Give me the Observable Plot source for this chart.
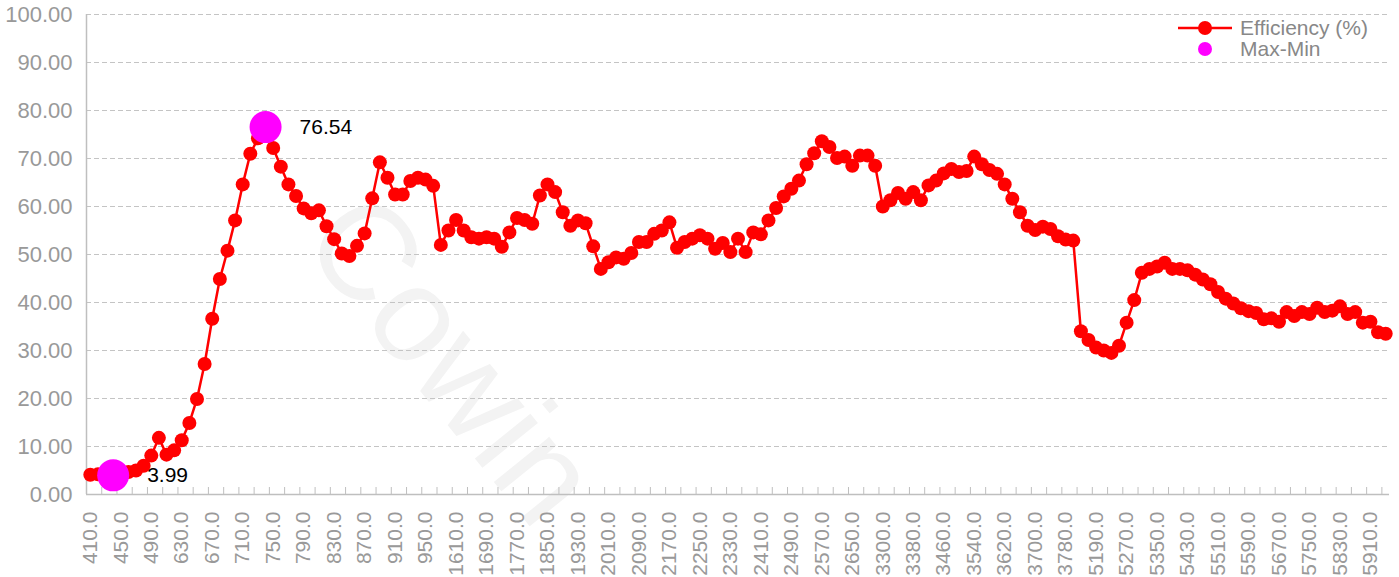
<!DOCTYPE html>
<html><head><meta charset="utf-8">
<script src="https://cdn.jsdelivr.net/npm/d3@7"></script>
<script src="https://cdn.jsdelivr.net/npm/@observablehq/plot@0.6"></script>
<style>
body{margin:0;background:#fff;font-family:"Liberation Sans",Arial,sans-serif;}
#wrap{position:relative;width:1399px;height:577px;overflow:hidden;}
#wrap svg.main{position:absolute;left:0;top:0;}
#legend{position:absolute;left:1176px;top:17px;font-size:21px;color:#888;line-height:21px;}
#legend .row{display:flex;align-items:center;height:21px;}
#legend svg{margin-right:6px;}
</style></head><body><div id="wrap"></div>
<script>
const wavelengths = [
  410,420,430,440,450,460,470,480,490,500,510,520,
  630,640,650,660,670,680,690,700,710,720,730,740,750,760,770,780,790,800,810,820,830,840,850,860,870,880,890,900,910,920,930,940,950,960,970,980,
  1610,1630,1650,1670,1690,1710,1730,1750,1770,1790,1810,1830,1850,1870,1890,1910,1930,1950,1970,1990,2010,2030,2050,2070,2090,2110,2130,2150,2170,2190,2210,2230,2250,2270,2290,2310,2330,2350,2370,2390,2410,2430,2450,2470,2490,2510,2530,2550,2570,2590,2610,2630,2650,2670,2690,2710,
  3300,3320,3340,3360,3380,3400,3420,3440,3460,3480,3500,3520,3540,3560,3580,3600,3620,3640,3660,3680,3700,3720,3740,3760,3780,3800,3820,3840,
  5190,5210,5230,5250,5270,5290,5310,5330,5350,5370,5390,5410,5430,5450,5470,5490,5510,5530,5550,5570,5590,5610,5630,5650,5670,5690,5710,5730,5750,5770,5790,5810,5830,5850,5870,5890,5910,5930,5950
];
const efficiency = [
  4.1,4.2,4.1,3.99,4.3,4.7,5.0,6.0,8.1,11.8,8.3,9.2,
  11.3,14.9,19.9,27.2,36.6,44.9,50.8,57.1,64.6,71.0,74.2,76.54,72.2,68.3,64.6,62.2,59.6,58.6,59.2,55.9,53.2,50.2,49.7,51.8,54.4,61.7,69.2,66.0,62.5,62.5,65.3,66.0,65.6,64.3,52.0,55.0,
  57.2,55.0,53.6,53.3,53.6,53.3,51.6,54.6,57.6,57.2,56.4,62.3,64.6,63.0,58.8,56.0,57.1,56.5,51.7,47.0,48.4,49.4,49.1,50.3,52.6,52.6,54.3,55.0,56.7,51.4,52.6,53.3,54.0,53.3,51.2,52.4,50.5,53.3,50.5,54.6,54.2,57.1,59.7,62.1,63.7,65.4,68.8,71.1,73.6,72.4,70.1,70.4,68.5,70.6,70.6,68.5,
  60.0,61.3,62.8,61.6,63.0,61.3,64.4,65.4,66.9,67.8,67.2,67.4,70.4,68.8,67.6,66.8,64.6,61.6,58.8,56.0,55.1,55.8,55.3,53.8,53.1,52.9,34.0,32.2,
  30.6,30.0,29.5,31.0,35.8,40.5,46.2,47.0,47.5,48.3,47.0,47.0,46.7,45.8,44.8,43.8,42.2,40.8,39.8,38.8,38.2,37.8,36.5,36.7,36.0,38.0,37.2,38.0,37.6,38.9,38.0,38.3,39.2,37.6,38.0,35.8,36.0,33.8,33.5
];
const yTicks = [0,10,20,30,40,50,60,70,80,90,100];
const seriesName = "Efficiency (%)";
const extremesName = "Max-Min";
const watermarkText = "Cowin";

const data = wavelengths.map((w, i) => ({i, w, v: efficiency[i]}));
const extremes = [data[d3.maxIndex(efficiency)], data[d3.minIndex(efficiency)]];
const labelIdx = d3.range(0, wavelengths.length, 4);
const tickIdx = d3.range(-0.5, wavelengths.length, 2);

const watermark = () => {
  const t = d3.create("svg:text")
    .attr("transform", "translate(445,365) rotate(51)")
    .attr("text-anchor", "middle")
    .attr("dominant-baseline", "middle")
    .attr("font-size", 135)
    .attr("font-family", "Liberation Sans, Arial, sans-serif")
    .attr("fill", "#f3f3f3")
    .text(watermarkText);
  return t.node();
};

const chart = Plot.plot({
  width: 1399, height: 577,
  marginLeft: 86, marginRight: 10, marginTop: 14, marginBottom: 83,
  style: {fontFamily: "Liberation Sans, Arial, sans-serif", background: "transparent"},
  x: {type: "linear", domain: [-0.5, wavelengths.length - 0.5]},
  y: {domain: [0, 100]},
  marks: [
    watermark,
    Plot.gridY(yTicks.filter(d => d > 0), {stroke: "#c4c4c4", strokeOpacity: 1, strokeDasharray: "5,3", strokeWidth: 1.2}),
    Plot.axisY(yTicks, {tickSize: 0, tickPadding: 14, tickFormat: d => d.toFixed(2), fontSize: 22, fill: "#999", label: null}),
    Plot.ruleX([-0.5], {stroke: "#bfbfbf", strokeWidth: 1.5}),
    Plot.ruleY([0], {stroke: "#bfbfbf", strokeWidth: 1.5}),
    Plot.axisX(tickIdx, {tickSize: -7, tickFormat: () => "", stroke: "#bfbfbf", label: null}),
    Plot.axisX(labelIdx, {tickSize: 0, tickPadding: 17, tickRotate: -90, tickFormat: i => wavelengths[i].toFixed(1), fontSize: 21, fill: "#999", label: null}),
    Plot.line(data, {x: "i", y: "v", stroke: "#ff0000", strokeWidth: 2.5}),
    Plot.dot(data, {x: "i", y: "v", r: 7, fill: "#ff0000"}),
    Plot.dot(extremes, {x: "i", y: "v", r: 16, fill: "#ff00ff"}),
    Plot.text(extremes, {x: "i", y: "v", text: d => d.v.toFixed(2), dx: 34, textAnchor: "start", fontSize: 21, fill: "#000"})
  ]
});
chart.classList.add("main");
const wrap = document.getElementById("wrap");
wrap.appendChild(chart);

const legend = document.createElement("div");
legend.id = "legend";
legend.innerHTML =
  `<div class="row"><svg width="58" height="21"><line x1="2" x2="56" y1="11" y2="11" stroke="#ff0000" stroke-width="2.5"/><circle cx="29" cy="11" r="7" fill="#ff0000"/></svg><span>${seriesName}</span></div>` +
  `<div class="row"><svg width="58" height="21"><circle cx="29" cy="11" r="7" fill="#ff00ff"/></svg><span>${extremesName}</span></div>`;
wrap.appendChild(legend);
</script>
</body></html>
